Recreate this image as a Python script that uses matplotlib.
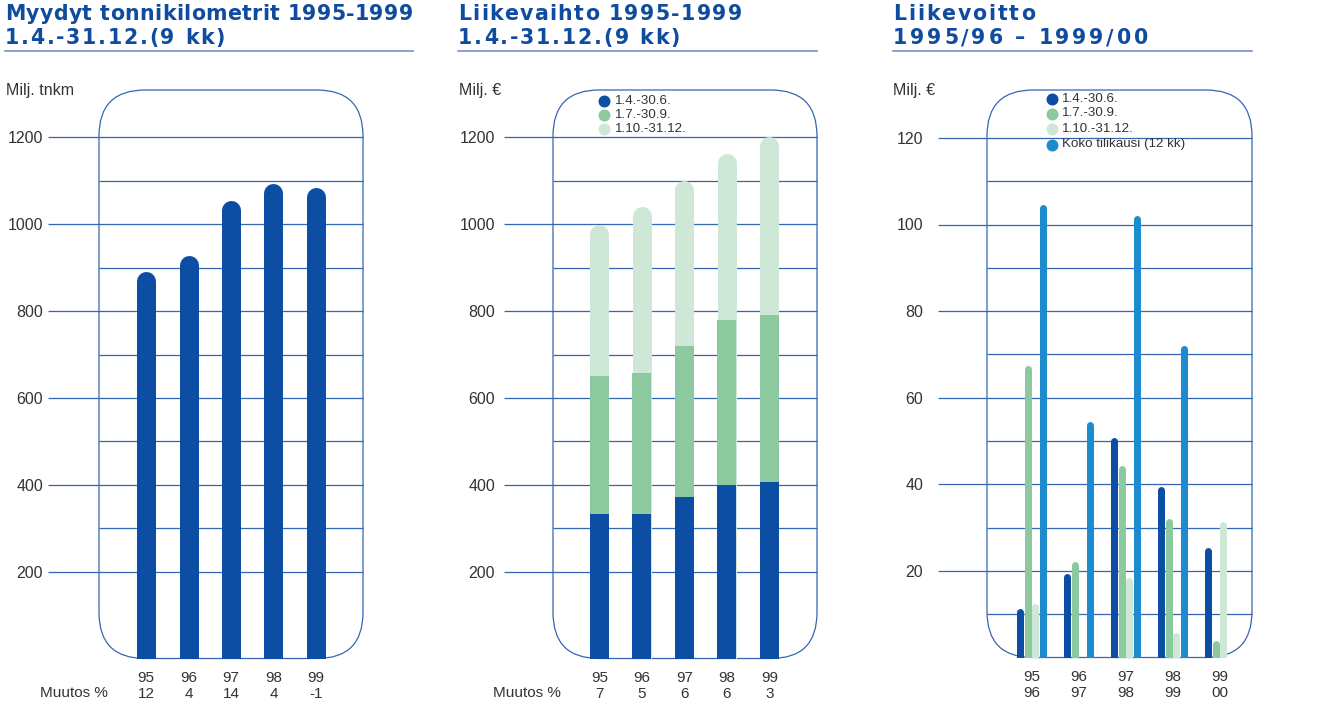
import numpy as np
import matplotlib.pyplot as plt
from matplotlib.patches import FancyBboxPatch
from matplotlib.lines import Line2D
from matplotlib.font_manager import FontProperties, findfont
from matplotlib.ft2font import FT2Font

W, H = 1321, 705

# Myydyt tonnikilometrit
years = ["95", "96", "97", "98", "99"]
tonnikm = [892, 927, 1054, 1093, 1085]
tonnikm_change = ["12", "4", "14", "4", "-1"]

# Liikevaihto, quarters stacked
q1_sales = [333, 333, 372, 399, 406]
q2_sales = [317, 324, 347, 380, 386]
q3_sales = [350, 385, 382, 385, 410]
sales_change = ["7", "5", "6", "6", "3"]

# Liikevoitto
fiscal_years = ["95\n96", "96\n97", "97\n98", "98\n99", "99\n00"]
q1_profit = [11.4, 19.3, 50.9, 39.4, 25.5]
q2_profit = [67.5, 22.1, 44.3, 32.2, 3.9]
q3_profit = [12.4, 0, 18.4, 5.7, 31.4]
year_profit = [104.7, 54.5, 102.1, 72.0, np.nan]
legend_labels = ["1.4.-30.6.", "1.7.-30.9.", "1.10.-31.12.", "Koko tilikausi (12 kk)"]

DARK = "#0c4ea3"
GREEN = "#8cc99e"
LIGHT = "#cfe7d7"
BLUE = "#1e8bcf"
GRID = "#3566b2"
TITLE = "#0f4c9f"
TEXT = "#333333"

plt.rcParams['font.family'] = ['Liberation Sans', 'DejaVu Sans']

fig = plt.figure(figsize=(W / 100, H / 100), dpi=100)

title_prop = FontProperties(family='DejaVu Sans', weight='bold', size=14.8)
title_font = FT2Font(findfont(title_prop))
title_font.set_size(14.8, 100)


def spaced_text(x_px, y_px, s, width_px):
    # bold title with letter spacing stretched to the given width
    adv = []
    for ch in s:
        g = title_font.load_char(ord(ch))
        adv.append(g.linearHoriAdvance / 65536)
    track = (width_px - sum(adv)) / (len(s) - 1)
    x_pos = x_px
    for ch, a in zip(s, adv):
        fig.text(x_pos / W, 1 - y_px / H, ch, fontproperties=title_prop, color=TITLE,
                 va='baseline')
        x_pos += a + track


def title(x0, x1, line1, w1, line2, w2):
    spaced_text(x0, 20.5, line1, w1)
    spaced_text(x0, 44.3, line2, w2)
    fig.add_artist(Line2D([x0 / W, x1 / W], [1 - 50.7 / H] * 2, color="#6e93c8",
                          linewidth=1.2, transform=fig.transFigure))


def panel(left, right, bottom, px_per_unit, top=90):
    ax = fig.add_axes([left / W, 1 - bottom / H, (right - left) / W, (bottom - top) / H])
    ax.set_ylim(0, (bottom - top) / px_per_unit)
    for s in ax.spines.values():
        s.set_visible(False)
    ax.patch.set_visible(False)
    # rounded frame
    w_px, h_px = right - left, bottom - top
    box = FancyBboxPatch((0, 0), 1, 1, boxstyle="round,pad=0,rounding_size=%f" % (46 / w_px),
                         mutation_aspect=w_px / h_px, transform=ax.transAxes,
                         facecolor='none', edgecolor=GRID, linewidth=0.9, clip_on=False, zorder=1)
    ax.add_patch(box)
    return ax


def grid(ax, major, minor, line_start_px, left, right):
    ext = (line_start_px - left) / (right - left)
    tr = ax.get_yaxis_transform()
    ax.hlines(major, ext, 1, transform=tr, colors=GRID, linewidth=0.9, clip_on=False, zorder=1)
    ax.hlines(minor, 0, 1, transform=tr, colors=GRID, linewidth=0.9, clip_on=False, zorder=1)


def round_bars(ax, x, tops, width_px, px_per_unit, color):
    r = width_px / 2 / px_per_unit
    tops = np.asarray(tops, dtype=float)
    ok = ~np.isnan(tops) & (tops > 0)
    lc = ax.vlines(np.asarray(x)[ok], -r, tops[ok] - r, colors=color,
                   linewidth=width_px * 0.72, zorder=3)
    lc.set_capstyle('round')


def yticks(ax, ticks, pad_px):
    ax.set_yticks(ticks, [str(t) for t in ticks])
    ax.tick_params(axis='y', length=0, pad=pad_px * 0.72, labelsize=11.5, labelcolor=TEXT)


def xticks(ax, labels):
    ax.set_xticks(range(len(labels)), labels)
    ax.tick_params(axis='x', length=0, pad=9.2, labelsize=11, labelcolor=TEXT)
    for lbl in ax.get_xticklabels():
        lbl.set_linespacing(1.15)


def legend(x_dot, x_text, rows, labels, colors):
    for y, lab, c in zip(rows, labels, colors):
        fig.add_artist(Line2D([x_dot / W], [1 - y / H], marker='o', markersize=7.6, color=c,
                              linestyle='none', transform=fig.transFigure))
        fig.text(x_text / W, 1 - y / H, lab, fontsize=9.6, color=TEXT, va='center')


x = np.arange(5)

# ---- Panel 1: tonnikilometrit
s1 = 0.4342
ax1 = panel(99, 363, 658.5, s1)
ax1.set_xlim(-1.106, 5.106)
grid(ax1, [200, 400, 600, 800, 1000, 1200], [300, 500, 700, 900, 1100], 48, 99, 363)
round_bars(ax1, x, tonnikm, 19, s1, DARK)
yticks(ax1, [200, 400, 600, 800, 1000, 1200], 56)
xticks(ax1, [f"{y}\n{c}" for y, c in zip(years, tonnikm_change)])
title(5, 413, "Myydyt tonnikilometrit 1995-1999", 408, "1.4.-31.12.(9 kk)", 220)
fig.text(6 / W, 1 - 91 / H, "Milj. tnkm", fontsize=11.5, color=TEXT, va='center')
fig.text(108 / W, 1 - 693 / H, "Muutos %", fontsize=11, color=TEXT, va='center', ha='right')

# ---- Panel 2: liikevaihto
ax2 = panel(553, 817, 658.5, s1)
ax2.set_xlim(-1.094, 5.118)
grid(ax2, [200, 400, 600, 800, 1000, 1200], [300, 500, 700, 900, 1100], 504, 553, 817)
total = np.array(q1_sales) + np.array(q2_sales) + np.array(q3_sales)
bw = 19 / 42.5
round_bars(ax2, x, total, 19, s1, LIGHT)
ax2.bar(x, q2_sales, bw, bottom=q1_sales, color=GREEN, zorder=4)
ax2.bar(x, q1_sales, bw, color=DARK, zorder=4)
yticks(ax2, [200, 400, 600, 800, 1000, 1200], 58)
xticks(ax2, [f"{y}\n{c}" for y, c in zip(years, sales_change)])
title(458, 817, "Liikevaihto 1995-1999", 284, "1.4.-31.12.(9 kk)", 222)
fig.text(459 / W, 1 - 91 / H, "Milj. €", fontsize=11.5, color=TEXT, va='center')
fig.text(561 / W, 1 - 693 / H, "Muutos %", fontsize=11, color=TEXT, va='center', ha='right')
legend(604, 615, [100.7, 114.5, 129], legend_labels[:3], [DARK, GREEN, LIGHT])

# ---- Panel 3: liikevoitto
s3 = 4.33
ax3 = panel(987, 1252, 657.5, s3)
ax3.set_xlim(-0.947, 4.691)
grid(ax3, [20, 40, 60, 80, 100, 120], [10, 30, 50, 70, 90, 110], 938, 987, 1252)
off = 7.5 / 47
round_bars(ax3, x - 1.5 * off, q1_profit, 7, s3, DARK)
round_bars(ax3, x - 0.5 * off, q2_profit, 7, s3, GREEN)
round_bars(ax3, x + 0.5 * off, q3_profit, 7, s3, LIGHT)
round_bars(ax3, x + 1.5 * off, year_profit, 7, s3, BLUE)
yticks(ax3, [20, 40, 60, 80, 100, 120], 64)
xticks(ax3, fiscal_years)
title(893, 1252, "Liikevoitto", 142, "1995/96 \u2013 1999/00", 255)
fig.text(893 / W, 1 - 91 / H, "Milj. €", fontsize=11.5, color=TEXT, va='center')
legend(1052, 1062, [99, 113.5, 128.5, 144.5], legend_labels, [DARK, GREEN, LIGHT, BLUE])

fig.savefig("out.png", dpi=100)
